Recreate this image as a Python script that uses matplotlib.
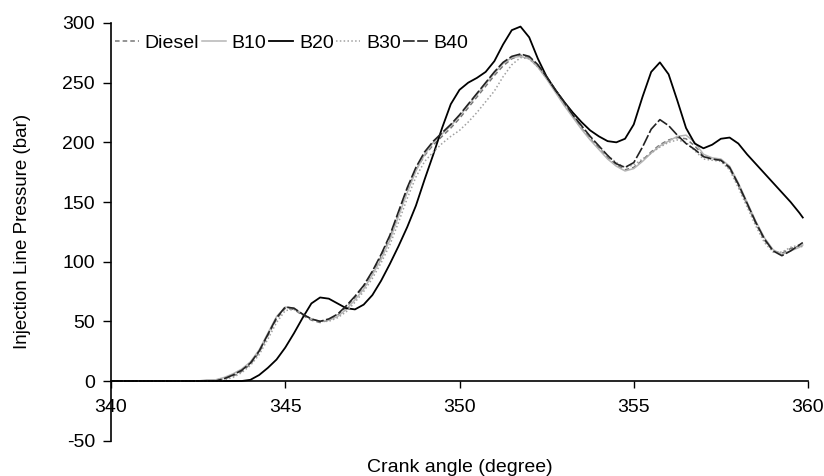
import matplotlib
matplotlib.use("Agg")
import matplotlib.pyplot as plt

plt.rcParams["font.family"] = ["Liberation Sans", "DejaVu Sans"]
plt.rcParams["axes.unicode_minus"] = False

# crank angle grid (degree)
crank = [340, 341,
         342.0, 342.25, 342.5, 342.75,
         343.0, 343.25, 343.5, 343.75,
         344.0, 344.25, 344.5, 344.75,
         345.0, 345.25, 345.5, 345.75,
         346.0, 346.25, 346.5, 346.75,
         347.0, 347.25, 347.5, 347.75,
         348.0, 348.25, 348.5, 348.75,
         349.0, 349.25, 349.5, 349.75,
         350.0, 350.25, 350.5, 350.75,
         351.0, 351.25, 351.5, 351.75,
         352.0, 352.25, 352.5, 352.75,
         353.0, 353.25, 353.5, 353.75,
         354.0, 354.25, 354.5, 354.75,
         355.0, 355.25, 355.5, 355.75,
         356.0, 356.25, 356.5, 356.75,
         357.0, 357.25, 357.5, 357.75,
         358.0, 358.25, 358.5, 358.75,
         359.0, 359.25, 359.5, 359.75,
         359.85]

# injection line pressure (bar)
diesel = [0, 0,
          0, 0, 0, 0,
          1, 2, 4, 8,
          14, 24, 38, 52,
          61, 60, 55, 51,
          49, 51, 55, 62,
          70, 79, 91, 104,
          120, 140, 160, 177,
          189, 198, 205, 212,
          220, 229, 238, 247,
          256, 264, 270, 273,
          271, 264, 254, 243,
          232, 222, 212, 203,
          195, 187, 181, 177,
          179, 185, 192, 198,
          202, 204, 203, 197,
          189, 186, 185, 178,
          164, 148, 132, 118,
          109, 107, 111, 113,
          113]

b10 = [0, 0,
       0, 0, 0, 1,
       1, 3, 6, 10,
       16, 26, 40, 54,
       62, 61, 56, 52,
       50, 51, 54, 60,
       68, 77, 89, 102,
       118, 138, 158, 176,
       190, 200, 207, 214,
       222, 231, 240, 249,
       258, 266, 271, 272,
       270, 263, 253, 242,
       231, 221, 211, 202,
       194, 186, 180, 176,
       178, 184, 191, 197,
       201, 205, 206, 200,
       190, 187, 186, 180,
       166, 150, 134, 120,
       110, 106, 109, 112,
       114]

b20 = [0, 0,
       0, 0, 0, 0,
       0, 0, 0, 0,
       1, 5, 11, 18,
       28, 40, 53, 65,
       70, 69, 65, 61,
       60, 64, 72, 84,
       98, 113, 129, 147,
       169, 190, 212, 232,
       244, 250, 254, 259,
       268, 282, 294, 297,
       288, 270, 255, 244,
       234, 225, 217, 210,
       205, 201, 200, 203,
       215, 238, 259, 267,
       257, 235, 212, 199,
       195, 198, 203, 204,
       199, 190, 182, 174,
       166, 158, 150, 141,
       137]

b30 = [0, 0,
       0, 0, 0, 0,
       0, 1, 3, 7,
       13, 22, 35, 49,
       59, 60, 56, 52,
       50, 50, 53, 58,
       66, 75, 86, 99,
       114, 133, 153, 171,
       184, 192, 199, 205,
       210, 217, 225, 234,
       243, 255, 265, 271,
       270, 263, 254, 244,
       233, 223, 213, 204,
       196, 189, 183, 179,
       181, 186, 191, 196,
       200, 202, 200, 193,
       186, 185, 184, 177,
       162, 146, 130, 116,
       108, 108, 112, 114,
       112]

b40 = [0, 0,
       0, 0, 0, 0,
       0, 2, 5, 9,
       15, 25, 39, 53,
       62, 61, 56, 52,
       50, 52, 56, 63,
       71, 80, 92, 106,
       122, 142, 162, 179,
       192, 201, 208, 215,
       223, 232, 241, 250,
       259, 267, 272, 274,
       272, 265, 255, 244,
       234, 223, 214, 205,
       197, 189, 182, 179,
       183, 196, 211, 219,
       214, 206, 199, 194,
       188, 186, 185, 179,
       165, 149, 133, 119,
       109, 105, 109, 114,
       116]

fig = plt.figure(figsize=(8.24, 4.76), dpi=100)
ax = fig.add_axes([0.1347, 0.0742, 0.8459, 0.8775])

ax.plot(crank, diesel, color="#777777", lw=1.1, ls=(0, (3, 2)), label="Diesel")
ax.plot(crank, b10, color="#b5b5b5", lw=1.1, label="B10")
ax.plot(crank, b20, color="black", lw=1.3, label="B20")
ax.plot(crank, b30, color="#a0a0a0", lw=1.1, ls=(0, (1, 1.5)), label="B30")
ax.plot(crank, b40, color="#222222", lw=1.2, ls=(0, (7, 1.5)), label="B40")

ax.set_xlim(340, 360)
ax.set_ylim(-50, 300)
ax.set_xticks([340, 345, 350, 355, 360])
ax.set_yticks([-50, 0, 50, 100, 150, 200, 250, 300])

ax.spines["top"].set_visible(False)
ax.spines["right"].set_visible(False)
ax.spines["bottom"].set_position(("data", 0))
ax.spines["left"].set_linewidth(1.2)
ax.spines["bottom"].set_linewidth(1.2)

ax.tick_params(axis="x", direction="out", length=5, width=1, pad=8, labelsize=14)
ax.tick_params(axis="y", direction="out", length=5.5, width=1, pad=6, labelsize=14)

ax.set_xlabel("Crank angle (degree)", fontsize=14)
ax.xaxis.set_label_coords(0.5, -0.045)
ax.set_ylabel("Injection Line Pressure (bar)", fontsize=13.5)
ax.yaxis.set_label_coords(-0.115, 0.5)

ax.legend(loc="center left", bbox_to_anchor=(-0.006, 0.952), ncol=5, frameon=False,
          fontsize=14, handlelength=1.25, handletextpad=0.3, columnspacing=0.12,
          borderpad=0.2, borderaxespad=0.2)

fig.savefig("out.png", dpi=100)
